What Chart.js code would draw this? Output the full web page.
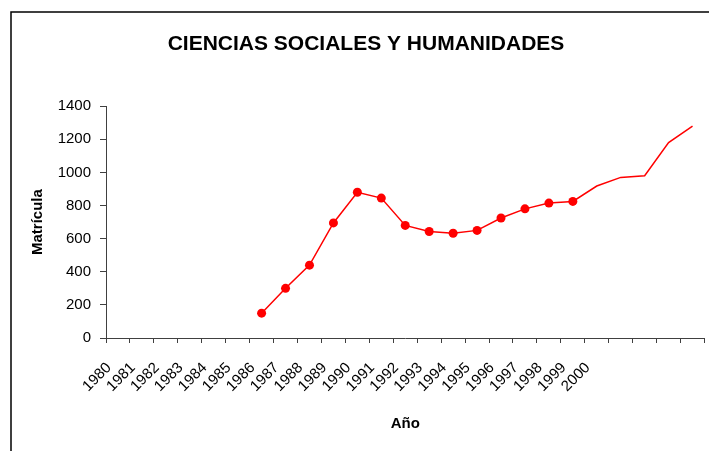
<!DOCTYPE html>
<html>
<head>
<meta charset="utf-8">
<title>Ciencias Sociales y Humanidades</title>
<script src="https://cdn.jsdelivr.net/npm/chart.js@4.4.1/dist/chart.umd.min.js"></script>
<style>
  body { margin: 0; background: #fff; }
  canvas { display: block; }
</style>
</head>
<body>
<canvas id="grafico" width="709" height="451"></canvas>
<script>
// Años (las últimas 4 categorías no tienen rótulo en el original)
const anios = ["1980", "1981", "1982", "1983", "1984", "1985", "1986", "1987", "1988", "1989",
               "1990", "1991", "1992", "1993", "1994", "1995", "1996", "1997", "1998", "1999",
               "2000", "", "", "", ""];
// Matrícula
const matricula = [null, null, null, null, null, null, 150, 300, 440, 695,
                   880, 845, 680, 643, 633, 650, 725, 780, 815, 825,
                   918, 970, 980, 1180, 1280];
const ticksY = [0, 200, 400, 600, 800, 1000, 1200, 1400];

const ctx = document.getElementById('grafico').getContext('2d');

// Marco del gráfico (fondo blanco + borde negro que sale por derecha y abajo)
const marco = {
    id: 'marco',
    beforeDraw(chart) {
        const c = chart.ctx;
        c.save();
        c.fillStyle = '#fff';
        c.fillRect(0, 0, chart.width, chart.height);
        c.strokeStyle = '#000';
        c.lineWidth = 1.5;
        c.strokeRect(11, 12, 800, 600);
        c.restore();
    }
};

const fuente = 'Arial, "Liberation Sans", sans-serif';

let grafico = new Chart(ctx, {
    type: 'line',
    data: {
        labels: anios,
        datasets: [{
            label: 'Matrícula',
            data: matricula,
            borderColor: '#ff0000',
            backgroundColor: '#ff0000',
            borderWidth: 1.5,
            pointRadius: c => c.dataIndex < 20 ? 4.5 : 0, // marcadores solo hasta 1999
            pointBorderWidth: 0,
            tension: 0,
            spanGaps: false
        }]
    },
    options: {
        responsive: false,
        animation: false,
        layout: { padding: { left: 26, right: 3, top: 0, bottom: 0 } },
        plugins: {
            legend: { display: false },
            tooltip: { enabled: false },
            title: {
                display: true,
                text: 'CIENCIAS SOCIALES Y HUMANIDADES',
                color: '#000',
                font: { family: fuente, size: 21, weight: 'bold' },
                padding: { top: 32, bottom: 49 }
            }
        },
        scales: {
            x: {
                offset: true,
                grid: { offset: true, drawOnChartArea: false, drawTicks: true, tickLength: 5, color: '#404040' },
                border: { color: '#404040', width: 1 },
                ticks: {
                    autoSkip: false,
                    minRotation: 45,
                    maxRotation: 45,
                    color: '#000',
                    padding: 16,
                    labelOffset: -9,
                    font: { family: fuente, size: 15 }
                },
                title: {
                    display: true,
                    text: 'Año',
                    color: '#000',
                    font: { family: fuente, size: 15, weight: 'bold' },
                    padding: { top: 14, bottom: 18 }
                },
                afterFit: s => {
                    s.height = 113;
                    s.paddingLeft = 0;
                    s.paddingRight = 0;
                }
            },
            y: {
                min: 0,
                max: 1400,
                afterBuildTicks: s => { s.ticks = ticksY.map(v => ({ value: v })); },
                grid: { drawOnChartArea: false, drawTicks: true, tickLength: 6, color: '#404040' },
                border: { color: '#404040', width: 1 },
                ticks: {
                    color: '#000',
                    padding: 9,
                    font: { family: fuente, size: 15 },
                    callback: v => String(v)
                },
                title: {
                    display: true,
                    text: 'Matrícula',
                    color: '#000',
                    font: { family: fuente, size: 15, weight: 'bold' },
                    padding: { top: 3, bottom: 8 }
                },
                afterFit: s => { s.width = 80; }
            }
        }
    },
    plugins: [marco]
});
</script>
</body>
</html>
